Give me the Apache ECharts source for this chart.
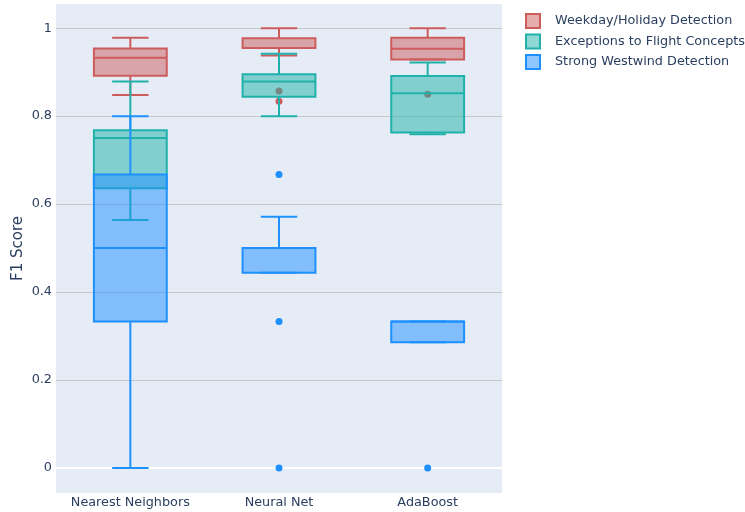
<!DOCTYPE html>
<html>
<head>
<meta charset="utf-8">
<script src="https://cdn.jsdelivr.net/npm/echarts@6/dist/echarts.min.js"></script>
<style>
  html, body { margin: 0; padding: 0; background: #ffffff; }
  #chart { width: 745px; height: 512px; }
</style>
</head>
<body>
<div id="chart"></div>
<script>
// Classifier names along the x axis
const models = ['Nearest Neighbors', 'Neural Net', 'AdaBoost'];

// Box summaries per classifier: [min, q1, median, q3, max]
const weekdayBoxes = [
  [0.848, 0.892, 0.933, 0.954, 0.978],
  [0.938, 0.955, 0.955, 0.977, 1.000],
  [0.929, 0.929, 0.953, 0.978, 1.000]
];
const exceptionBoxes = [
  [0.564, 0.636, 0.750, 0.768, 0.879],
  [0.800, 0.844, 0.879, 0.895, 0.942],
  [0.759, 0.763, 0.852, 0.891, 0.922]
];
const westwindBoxes = [
  [0.000, 0.333, 0.500, 0.667, 0.800],
  [0.444, 0.444, 0.500, 0.500, 0.571],
  [0.286, 0.286, 0.333, 0.333, 0.333]
];

// Outliers: [classifier index, F1 score]
const weekdayOutliers = [[1, 0.857], [1, 0.834], [2, 0.850]];
const exceptionOutliers = [];
const westwindOutliers = [[1, 0.667], [1, 0.333], [1, 0.000], [2, 0.000]];

const seriesNames = ['Weekday/Holiday Detection', 'Exceptions to Flight Concepts', 'Strong Westwind Detection'];

const TEXT = '#2a3f5f';
const FONT = '"DejaVu Sans", Verdana, sans-serif';
const BOX_FRAC = 0.49;

const palette = [
  { line: '#cd5c5c', fill: 'rgba(205,92,92,0.5)' },
  { line: '#20b2aa', fill: 'rgba(32,178,170,0.5)' },
  { line: '#1e90ff', fill: 'rgba(30,144,255,0.5)' }
];

function boxData(boxes) {
  return boxes.map((b, i) => [i].concat(b));
}

function makeBoxRenderer(col) {
  return function (params, api) {
    const x = api.value(0);
    const px = api.coord([x, 0])[0];
    const yMin = api.coord([x, api.value(1)])[1];
    const yQ1 = api.coord([x, api.value(2)])[1];
    const yMed = api.coord([x, api.value(3)])[1];
    const yQ3 = api.coord([x, api.value(4)])[1];
    const yMax = api.coord([x, api.value(5)])[1];
    const bw = api.size([1, 0])[0] * BOX_FRAC;
    const half = bw / 2;
    const cap = bw / 4;
    const ls = { stroke: col.line, lineWidth: 2, fill: null };
    return {
      type: 'group',
      children: [
        { type: 'rect', shape: { x: px - half, y: yQ3, width: bw, height: yQ1 - yQ3 },
          style: { fill: col.fill, stroke: col.line, lineWidth: 2 } },
        { type: 'line', shape: { x1: px - half, y1: yMed, x2: px + half, y2: yMed }, style: ls },
        { type: 'line', shape: { x1: px, y1: yQ3, x2: px, y2: yMax }, style: ls },
        { type: 'line', shape: { x1: px, y1: yQ1, x2: px, y2: yMin }, style: ls },
        { type: 'line', shape: { x1: px - cap, y1: yMax, x2: px + cap, y2: yMax }, style: ls },
        { type: 'line', shape: { x1: px - cap, y1: yMin, x2: px + cap, y2: yMin }, style: ls }
      ]
    };
  };
}

const allBoxes = [weekdayBoxes, exceptionBoxes, westwindBoxes];
const allOutliers = [weekdayOutliers, exceptionOutliers, westwindOutliers];

// Each trace sits on its own layer so later traces' fills cover earlier marks
const series = [];
seriesNames.forEach((name, k) => {
  series.push({
    name: name,
    type: 'scatter',
    symbol: 'circle',
    symbolSize: 7,
    z: 3 + k * 2,
    itemStyle: { color: palette[k].line, opacity: 1 },
    data: allOutliers[k],
    animation: false
  });
  series.push({
    name: name,
    type: 'custom',
    z: 4 + k * 2,
    renderItem: makeBoxRenderer(palette[k]),
    itemStyle: { color: palette[k].line },
    encode: { x: 0, y: [1, 2, 3, 4, 5] },
    data: boxData(allBoxes[k]),
    clip: false,
    animation: false
  });
});

const chart = echarts.init(document.getElementById('chart'), null, { renderer: 'canvas' });
chart.setOption({
  backgroundColor: '#ffffff',
  textStyle: { fontFamily: FONT },
  grid: {
    left: 56, right: 243, top: 4, bottom: 19,
    outerBoundsMode: 'none',
    containLabel: false,
    show: true, backgroundColor: '#e5ecf6', borderWidth: 0
  },
  legend: {
    orient: 'vertical',
    left: 520,
    top: 8,
    itemWidth: 14,
    itemHeight: 14,
    itemGap: 4.5,
    icon: 'rect',
    textStyle: { color: TEXT, fontSize: 12.8, fontFamily: FONT, lineHeight: 14, padding: [0, 0, 0, 10] },
    data: seriesNames.map((n, k) => ({
      name: n,
      itemStyle: { color: palette[k].fill, borderColor: palette[k].line, borderWidth: 2 }
    }))
  },
  xAxis: {
    type: 'category',
    data: models,
    boundaryGap: true,
    axisLine: { show: false },
    axisTick: { show: false },
    splitLine: { show: false },
    axisLabel: { color: TEXT, fontSize: 12.8, fontFamily: FONT, margin: 3, interval: 0, hideOverlap: false }
  },
  yAxis: {
    type: 'value',
    min: -0.057,
    max: 1.055,
    splitNumber: 5,
    name: 'F1 Score',
    nameLocation: 'middle',
    nameGap: 30,
    nameMoveOverlap: false,
    nameTextStyle: { color: TEXT, fontSize: 15, fontFamily: FONT },
    axisLine: { show: false },
    axisTick: { show: false },
    axisLabel: { color: TEXT, fontSize: 12.8, fontFamily: FONT, margin: 4, showMinLabel: false, showMaxLabel: false },
    splitLine: {
      show: true,
      showMinLine: false,
      showMaxLine: false,
      lineStyle: { color: '#c8c8c8', width: 1 }
    }
  },
  series: series.concat([{
    // white zero line beneath the marks
    type: 'line',
    data: [],
    silent: true,
    z: 1,
    markLine: {
      silent: true,
      z: 1,
      symbol: 'none',
      label: { show: false },
      lineStyle: { color: '#ffffff', width: 2, type: 'solid' },
      data: [{ yAxis: 0 }]
    }
  }])
});
</script>
</body>
</html>
